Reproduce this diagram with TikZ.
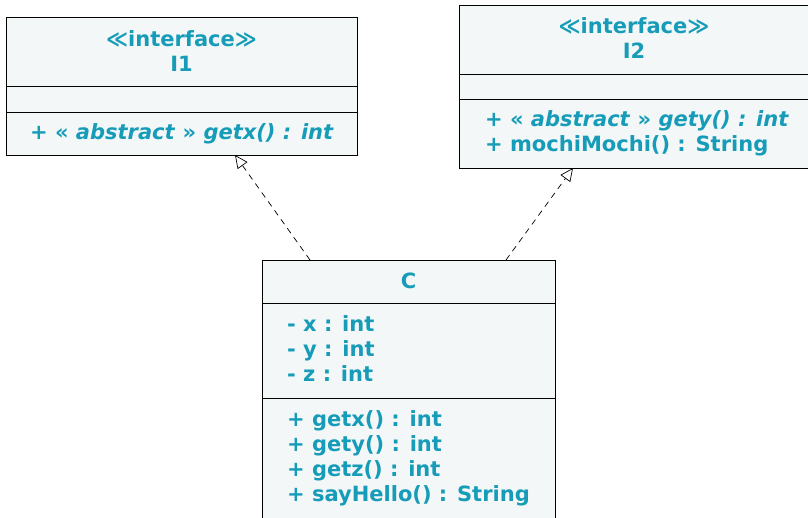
\documentclass[tikz,border=0pt]{standalone}
\usepackage{fontspec}
\setmainfont{DejaVu Sans}
\usetikzlibrary{arrows.meta}
\definecolor{umltext}{RGB}{22,156,184}
\definecolor{umlfill}{RGB}{243,247,248}
\tikzset{
  part/.style={draw=black, fill=umlfill, rectangle, inner sep=0pt, outer sep=0pt, anchor=north west, line width=0.8pt},
  txt/.style={text=umltext, font=\fontsize{21}{25}\selectfont\bfseries, inner sep=0pt},
  realize/.style={draw, line width=0.7pt, dash pattern=on 6pt off 5pt, -{Triangle[open, length=13pt, width=12pt]}}
}
\begin{document}
\begin{tikzpicture}[x=1pt,y=-1pt]
        \useasboundingbox (0,0) rectangle (808,517);

        \begin{scope}[every node/.style={part}]
          \node[minimum width=351pt, minimum height=69pt] (I1h) at (6,17)  {};
          \node[minimum width=351pt, minimum height=26pt] (I1a) at (6,86)  {};
          \node[minimum width=351pt, minimum height=43pt] (I1m) at (6,112) {};
          \node[minimum width=356pt, minimum height=69pt] (I2h) at (459,5)  {};
          \node[minimum width=356pt, minimum height=25pt] (I2a) at (459,74) {};
          \node[minimum width=356pt, minimum height=69pt] (I2m) at (459,99) {};
          \node[minimum width=293pt, minimum height=43pt]  (Ch) at (262,260) {};
          \node[minimum width=293pt, minimum height=95pt]  (Ca) at (262,303) {};
          \node[minimum width=293pt, minimum height=140pt] (Cm) at (262,398) {};
        \end{scope}

        \begin{scope}[every node/.style={txt}]
          \node[align=center] (I1n) at (181.5,51) {≪interface≫\\I1};
          \node (I1op) at (182,133.5) {+ « \textit{abstract} » \textit{getx() : int}};
          \node[align=center] (I2n) at (634,38) {≪interface≫\\I2};
          \node[align=left, anchor=west] (I2op) at (485,133.5)
            {+ « \textit{abstract} » \textit{gety() : int}\\+ mochiMochi() : String};
          \node (Cn) at (408.5,280.5) {C};
          \node[align=left, anchor=west] (Cat) at (287,349)
            {- x : int\\- y : int\\- z : int};
          \node[align=left, anchor=west] (Cop) at (287,458)
            {+ getx() : int\\+ gety() : int\\+ getz() : int\\+ sayHello() : String};
        \end{scope}

        \coordinate (s1) at (310,260);
        \coordinate (t1) at (235,155);
        \coordinate (s2) at (506,260);
        \coordinate (t2) at (573,168);

        \begin{scope}[every edge/.style={realize}]
          \path (s1) edge (t1);
          \path (s2) edge (t2);
        \end{scope}

      \end{tikzpicture}
\end{document}
